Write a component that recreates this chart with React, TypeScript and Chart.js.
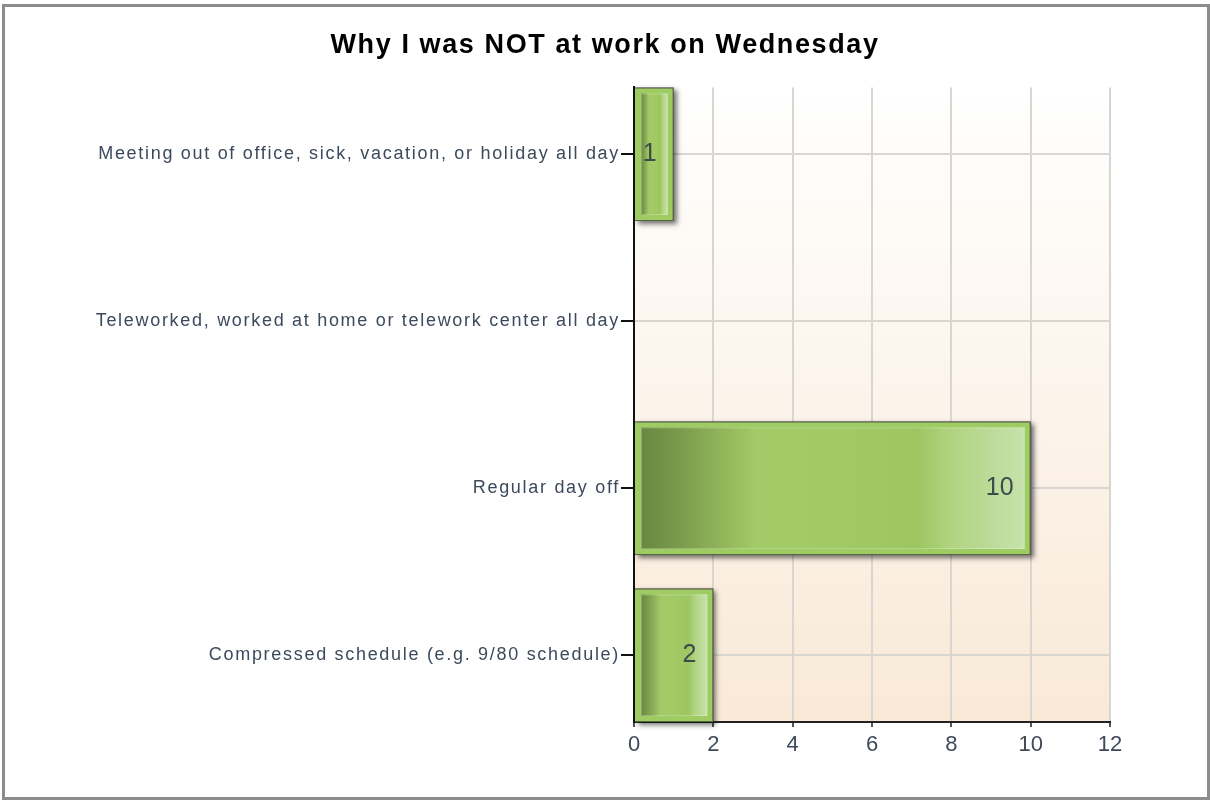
import React, { useEffect, useRef } from 'react';
import { Chart, registerables } from 'chart.js';

Chart.register(...registerables);

const TITLE = 'Why I was NOT at work on Wednesday';
const categories = [
  'Meeting out of office, sick, vacation, or holiday all day',
  'Teleworked, worked at home or telework center all day',
  'Regular day off',
  'Compressed schedule (e.g. 9/80 schedule)',
];
const counts = [1, 0, 10, 2];
const xTickValues = [0, 2, 4, 6, 8, 10, 12];

const FONT = "'Liberation Sans', Arial, sans-serif";

const spacingFor = (font: string) => {
  if (/(bold|700)/.test(font) && /\b27px/.test(font)) return '1.6px';
  if (/\b18px/.test(font)) return '1.7px';
  return '0px';
};

function patchContext(ctx: any) {
  if (ctx.__patched) return;
  ctx.__patched = true;
  const origFill = ctx.fillText;
  const origMeasure = ctx.measureText;
  ctx.fillText = function (text: string, x: number, y: number, maxWidth?: number) {
    this.letterSpacing = spacingFor(this.font);
    if (maxWidth === undefined || maxWidth === null) return origFill.call(this, text, x, y);
    return origFill.call(this, text, x, y, maxWidth);
  };
  ctx.measureText = function (text: string) {
    this.letterSpacing = spacingFor(this.font);
    return origMeasure.call(this, text);
  };
}

const backgroundPlugin = {
  id: 'bgPlot',
  beforeDraw(chart: any) {
    const { ctx, chartArea: a, width, height } = chart;
    ctx.save();
    ctx.fillStyle = '#ffffff';
    ctx.fillRect(0, 0, width, height);
    const g = ctx.createLinearGradient(0, a.top, 0, a.bottom);
    g.addColorStop(0, '#ffffff');
    g.addColorStop(1, '#f9e9d7');
    ctx.fillStyle = g;
    ctx.fillRect(a.left, a.top, a.right - a.left, a.bottom - a.top);
    ctx.restore();
  },
};

const barStylePlugin = {
  id: 'barStyle',
  beforeDatasetsDraw(chart: any) {
    const ctx = chart.ctx;
    const meta = chart.getDatasetMeta(0);
    ctx.save();
    ctx.shadowColor = 'rgba(0,0,0,0.55)';
    ctx.shadowBlur = 5;
    ctx.shadowOffsetX = 3;
    ctx.shadowOffsetY = 3;
    ctx.fillStyle = 'rgba(80,80,80,1)';
    meta.data.forEach((el: any) => {
      const { x, y, base, height } = el.getProps(['x', 'y', 'base', 'height'], true);
      if (Math.abs(x - base) < 1) return;
      ctx.fillRect(Math.min(x, base), y - height / 2, Math.abs(x - base), height);
    });
    ctx.restore();
  },
  afterDatasetsDraw(chart: any) {
    const ctx = chart.ctx;
    const meta = chart.getDatasetMeta(0);
    const a = chart.chartArea;
    ctx.save();
    meta.data.forEach((el: any, i: number) => {
      const { x, y, base, height } = el.getProps(['x', 'y', 'base', 'height'], true);
      if (Math.abs(x - base) < 1) return;
      const left = Math.min(x, base);
      const right = Math.max(x, base);
      const inset = 6;
      const il = left + inset;
      const ir = right - inset;
      const it = y - height / 2 + inset;
      const ib = y + height / 2 - inset;
      const g = ctx.createLinearGradient(il, 0, ir, 0);
      g.addColorStop(0, '#698740');
      g.addColorStop(0.1, '#7a9b4c');
      g.addColorStop(0.3, '#a2ca66');
      g.addColorStop(0.5, '#a1c964');
      g.addColorStop(0.72, '#9dc661');
      g.addColorStop(0.8, '#aed37e');
      g.addColorStop(0.9, '#bbda96');
      g.addColorStop(1, '#c7e2ac');
      ctx.fillStyle = g;
      ctx.fillRect(il, it, ir - il, ib - it);
      ctx.strokeStyle = 'rgba(255,255,255,0.25)';
      ctx.lineWidth = 1;
      ctx.strokeRect(il + 0.5, it + 0.5, ir - il - 1, ib - it - 1);

      const v = counts[i];
      if (v) {
        ctx.font = `25px ${FONT}`;
        ctx.fillStyle = '#3b4a4b';
        ctx.textAlign = 'right';
        ctx.textBaseline = 'middle';
        ctx.fillText(String(v), right - 17, y);
      }
    });
    // redraw the left axis line over the bars
    ctx.strokeStyle = '#111111';
    ctx.lineWidth = 2;
    ctx.beginPath();
    ctx.moveTo(a.left, a.top);
    ctx.lineTo(a.left, a.bottom + 1);
    ctx.stroke();
    ctx.restore();
  },
};

export default function App() {
  const canvasRef = useRef<HTMLCanvasElement | null>(null);

  useEffect(() => {
    const canvas = canvasRef.current;
    if (!canvas) return;
    const ctx = canvas.getContext('2d');
    patchContext(ctx);

    const chart = new Chart(canvas, {
      type: 'bar',
      data: {
        datasets: [
          {
            data: counts.map((v, i) => ({ x: v, y: i })) as any,
            backgroundColor: '#9fcb63',
            borderColor: '#55673e',
            borderWidth: 1,
            categoryPercentage: 1,
            barPercentage: 0.8,
          },
        ],
      },
      options: {
        indexAxis: 'y',
        responsive: false,
        animation: false,
        devicePixelRatio: 1,
        layout: { padding: { left: 0, right: 0, top: 0, bottom: 0 } },
        plugins: {
          legend: { display: false },
          tooltip: { enabled: false },
          title: {
            display: true,
            text: TITLE,
            color: '#000000',
            font: { family: FONT, size: 27, weight: 'bold' },
            padding: { top: 29, bottom: 26 },
          },
        },
        scales: {
          x: {
            type: 'linear',
            position: 'bottom',
            min: xTickValues[0],
            max: xTickValues[xTickValues.length - 1],
            afterBuildTicks: (scale: any) => {
              scale.ticks = xTickValues.map((v) => ({ value: v }));
            },
            afterFit: (scale: any) => {
              scale.height = 78;
            },
            ticks: {
              color: '#3e4a5a',
              font: { family: FONT, size: 22 },
              padding: 5,
            },
            grid: {
              color: '#d9d6d2',
              lineWidth: 2,
              tickLength: 5,
              tickColor: '#555555',
            },
            border: { color: '#222222', width: 2 },
          },
          y: {
            type: 'linear',
            position: 'left',
            reverse: true,
            offset: false,
            min: -0.4,
            max: categories.length - 1 + 0.4,
            afterBuildTicks: (scale: any) => {
              scale.ticks = categories.map((_, i) => ({ value: i }));
            },
            afterFit: (scale: any) => {
              scale.width = 634;
            },
            ticks: {
              color: '#3c4a5c',
              font: { family: FONT, size: 18 },
              padding: 1,
              autoSkip: false,
              callback: (value: any) => categories[Number(value)] ?? '',
            },
            grid: {
              offset: false,
              color: '#d9d6d2',
              lineWidth: 2,
              tickLength: 13,
              tickColor: '#111111',
            },
            border: { color: '#111111', width: 2 },
          },
          yRight: {
            type: 'linear',
            position: 'right',
            display: true,
            min: 0,
            max: 1,
            afterFit: (scale: any) => {
              scale.width = 100;
            },
            ticks: { display: false },
            grid: { display: false, drawOnChartArea: false },
            border: { display: false },
          },
        },
      },
      plugins: [backgroundPlugin, barStylePlugin],
    });

    return () => {
      chart.destroy();
    };
  }, []);

  return (
    <div
      style={{
        position: 'absolute',
        left: 0,
        top: 0,
        width: 1210,
        height: 800,
        background: '#ffffff',
        overflow: 'hidden',
      }}
    >
      <canvas
        ref={canvasRef}
        width={1210}
        height={800}
        style={{ position: 'absolute', left: 0, top: 0, width: 1210, height: 800 }}
      />
      <div
        style={{
          position: 'absolute',
          left: 2,
          top: 4,
          width: 1208,
          height: 796,
          border: '3px solid #8c8c8c',
          boxSizing: 'border-box',
          pointerEvents: 'none',
        }}
      />
    </div>
  );
}
